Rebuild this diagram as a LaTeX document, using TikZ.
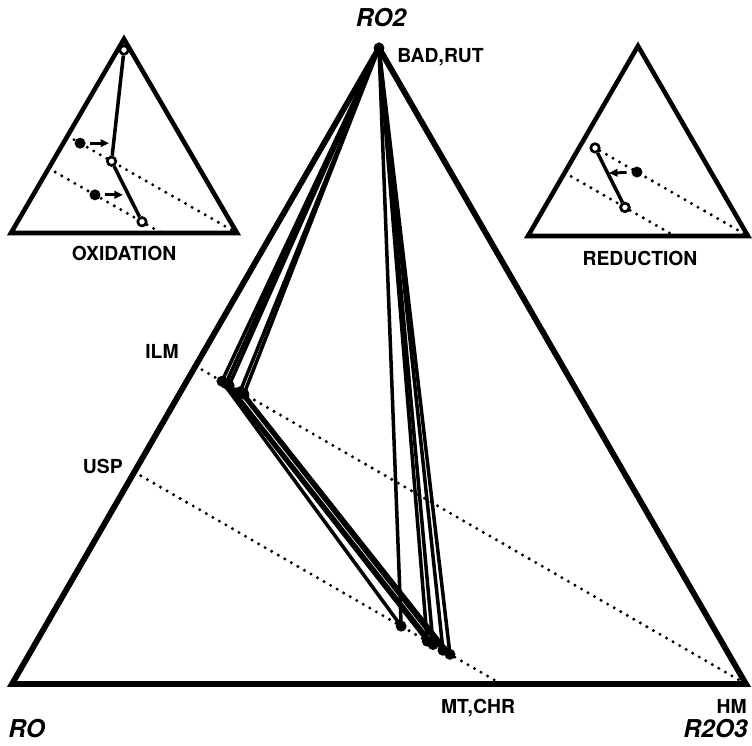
\documentclass[tikz,border=0pt]{standalone}
\usepackage{fontspec}
\setmainfont{TeX Gyre Heros}
\usetikzlibrary{arrows.meta,calc,positioning}
\tikzset{
  frame/.style={line width=3.3pt,line join=miter},
  insetframe/.style={line width=2.6pt,line join=miter},
  tie/.style={line width=2pt,line join=round},
  trend/.style={line width=1.9pt,line cap=round,dash pattern=on 0pt off 4.3pt},
  dot/.style={circle,fill=black,inner sep=0pt,minimum size=0.22cm},
  hollow/.style={circle,draw=black,fill=white,line width=1.5pt,inner sep=0pt,minimum size=0.17cm},
  push/.style={-{Triangle[length=0.17cm,width=0.15cm]},line width=1.6pt,shorten <=0.09cm},
  lab/.style={font=\fontsize{11}{13}\selectfont\bfseries,inner sep=0pt},
  axis/.style={font=\fontsize{14}{16}\selectfont\bfseries\itshape,inner sep=0pt}
}

\begin{document}
\begin{tikzpicture}[x=0.02cm,y=-0.02cm]
  \useasboundingbox (0,0) rectangle (752,746);
  % main diagram
  \coordinate (RO) at (12,684);
  \coordinate (R2O3) at (746,684);
  \coordinate (RO2) at (379,48);
  \coordinate (ILM) at ($(RO)!0.5!(RO2)$);
  \coordinate (USP) at ($(RO)!0.3333!(RO2)$);
  \coordinate (MT) at ($(RO)!0.6667!(R2O3)$);
  \draw[trend] (ILM) -- (R2O3);
  \draw[trend] (USP) -- (MT);
  \node[dot] (bad) at (RO2) {};
  \foreach \n/\i/\m in {1/0.048/0.727,2/0.055/0.798,3/0.061/0.814,4/0.081/0.841,5/0.088/0.860}{
    \node[dot] (ilm\n) at ($(ILM)!\i!(R2O3)$) {};
    \node[dot] (mt\n) at ($(USP)!\m!(MT)$) {};
    \draw[tie] (bad.center) -- (ilm\n.center) -- (mt\n.center) -- cycle;
  }
  \draw[frame] (RO) -- (R2O3) -- (RO2) -- cycle;
  \node[axis] (ro2lab) at (381,18) {RO2};
  \node[lab,anchor=west] (badlab) at (397,57) {BAD,RUT};
  \node[lab,anchor=east] (ilmlab) at (179,351) {ILM};
  \node[lab,anchor=east] (usplab) at (123,466) {USP};
  \node[lab] (mtlab) at (478,708) {MT,CHR};
  \node[lab,anchor=east] (hmlab) at (747,706) {HM};
  \node[axis,anchor=west] (rolab) at (8,729) {RO};
  \node[axis,anchor=east] (r2o3lab) at (748,729) {R2O3};

  % oxidation inset
  \coordinate (oxA) at (124,39);
  \coordinate (oxL) at (11,233);
  \coordinate (oxR) at (237,233);
  \coordinate (oxI) at ($(oxL)!0.5!(oxA)$);
  \coordinate (oxU) at ($(oxL)!0.3333!(oxA)$);
  \coordinate (oxM) at ($(oxL)!0.6667!(oxR)$);
  \draw[trend] (oxI) -- (oxR);
  \draw[trend] (oxU) -- (oxM);
  \node[hollow] (ox0) at (124,50) {};
  \node[hollow] (ox1) at ($(oxI)!0.26!(oxR)$) {};
  \node[hollow] (ox2) at ($(oxU)!0.826!(oxM)$) {};
  \draw[tie] (ox0) -- (ox1) -- (ox2);
  \node[dot] (oxd1) at ($(oxI)!0.074!(oxR)$) {};
  \node[dot] (oxd2) at ($(oxU)!0.41!(oxM)$) {};
  \coordinate (oxe1) at ($(oxd1)+(29,0)$);
  \coordinate (oxe2) at ($(oxd2)+(28,0)$);
  \draw[push] (oxd1) -- (oxe1);
  \draw[push] (oxd2) -- (oxe2);
  \draw[insetframe] (oxL) -- (oxR) -- (oxA) -- cycle;
  \node[lab] (oxlab) at (124,253) {OXIDATION};

  % reduction inset
  \coordinate (rdA) at (638,46);
  \coordinate (rdL) at (528,236);
  \coordinate (rdR) at (748,236);
  \coordinate (rdI) at ($(rdL)!0.5!(rdA)$);
  \coordinate (rdU) at ($(rdL)!0.3333!(rdA)$);
  \coordinate (rdM) at ($(rdL)!0.6667!(rdR)$);
  \node[hollow] (rd1) at ($(rdI)!0.073!(rdR)$) {};
  \node[hollow] (rd2) at ($(rdU)!0.548!(rdM)$) {};
  \draw[trend] (rd1) -- (rdR);
  \draw[trend] (rdU) -- (rdM);
  \node[hollow] at (rd2) {};
  \draw[tie] (rd1) -- (rd2);
  \node[dot] (rdd) at ($(rdI)!0.327!(rdR)$) {};
  \coordinate (rde) at ($(rdd)+(-28,1)$);
  \draw[push] (rdd) -- (rde);
  \draw[insetframe] (rdL) -- (rdR) -- (rdA) -- cycle;
  \node[lab] (rdlab) at (640,258) {REDUCTION};
\end{tikzpicture}
\end{document}
